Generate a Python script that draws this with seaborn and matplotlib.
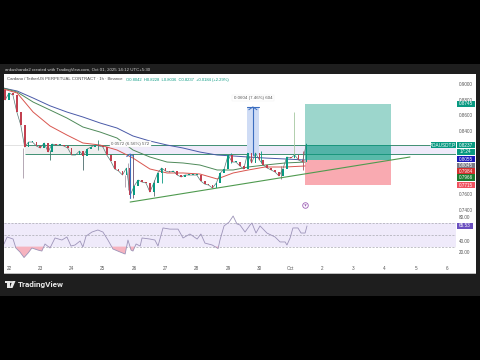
import numpy as np
import pandas as pd
import seaborn as sns
import matplotlib.pyplot as plt
from matplotlib.patches import Rectangle, Polygon, Circle

# hourly chart thinned to 3h closes
closes = [.8794, .8883, .8857, .8641, .8476, .8197, .8260, .8260, .8210, .8184, .8248, .8133, .8235, .8222, .8222, .8210,
          .8184, .8095, .8095, .8146, .8083, .8172, .8197, .8222, .8210, .8197, .8095, .8019, .7918, .7892, .7841, .7930,
          .7587, .7702, .7778, .7752, .7740, .7625, .7740, .7867, .7930, .7892, .7879, .7892, .7841, .7816, .7841, .7841,
          .7841, .7841, .7765, .7727, .7714, .7676, .7740, .7867, .7918, .8095, .8006, .8006, .7956, .7918, .8121, .7994,
          .8121, .8032, .7968, .7930, .7905, .7879, .7829, .7918, .8070, .8057, .8095, .8032, .8006, .8237]
first_open = .8921

wick_days = [22.45, 23.31, 24.36, 24.84, 25.71, 25.80, 25.96, 26.63, 26.89, 29.10, 30.05, 30.70, 31.10, 31.40]
wick_highs = [.8184, .8159, .8133, .8286, .7841, .7994, .8108, .7778, .7930, .8120, .8140, .7950, .8641, .8150]
wick_lows = [.7803, .8032, .7905, .8159, .7689, .7651, .7549, .7575, .7740, .7990, .8000, .7790, .8057, .7900]
wick_colors = ['#a89aa8', '#3a7a6a', '#4a6a6a', '#3a8a7a', '#a89aa8', '#a89aa8', '#6a4a6a', '#5a6a6a', '#089981',
               '#089981', '#089981', '#8a7a7a', '#a5c8a0', '#b05060']

ma_days = [21.81, 22.26, 22.77, 23.31, 23.85, 24.36, 24.91, 25.45, 25.96, 26.50, 27.05, 27.56, 28.10, 28.65, 29.16, 29.64,
           30.18, 30.82, 31.46]
ma_red = [.8934, .8883, .8641, .8464, .8349, .8248, .8222, .8159, .8057, .7918, .7867, .7867, .7854, .7791, .7867, .7905,
          .7943, .7943, .7956]
ma_green = [.8946, .8895, .8768, .8667, .8565, .8451, .8387, .8311, .8159, .8070, .8006, .7994, .7968, .7905, .7905, .7943,
            .7968, .7994, .8006]
ma_blue = [.8946, .8908, .8819, .8720, .8641, .8578, .8502, .8438, .8337, .8273, .8222, .8184, .8133, .8095, .8083, .8070,
           .8057, .8045, .8032]

rsi_days = [21.84, 21.94, 22.13, 22.22, 22.35, 22.48, 22.61, 22.73, 22.93, 23.05, 23.15, 23.31, 23.47, 23.69, 23.85, 23.98,
            24.11, 24.27, 24.36, 24.46, 24.65, 24.84, 25.00, 25.16, 25.32, 25.55, 25.71, 25.80, 25.90, 25.96, 26.06, 26.19,
            26.25, 26.50, 26.66, 26.76, 26.92, 27.14, 27.40, 27.56, 27.78, 28.01, 28.13, 28.26, 28.49, 28.68, 28.74, 28.87,
            29.03, 29.16, 29.28, 29.38, 29.54, 29.70, 29.76, 29.89, 30.02, 30.24, 30.50, 30.66, 30.82, 30.88, 30.98, 31.07,
            31.23, 31.33, 31.46, 31.52]
rsi_vals = [34.5, 46.5, 43.0, 27.6, 20.7, 11.3, 19.0, 27.6, 24.0, 22.4, 34.5, 27.6, 44.8, 41.3, 46.5, 31.0,
            32.8, 39.6, 29.3, 48.0, 55.0, 58.5, 55.0, 41.3, 25.9, 20.7, 17.3, 41.3, 24.0, 22.4, 34.5, 31.0,
            44.8, 43.0, 41.3, 31.0, 62.0, 60.0, 60.0, 44.8, 51.6, 43.0, 51.6, 36.0, 32.8, 26.7, 41.3, 65.5,
            72.0, 82.5, 69.0, 67.0, 55.0, 67.0, 70.5, 53.3, 65.5, 53.3, 46.5, 38.0, 38.0, 32.8, 44.8, 62.0,
            62.0, 53.3, 53.3, 65.5]

price_ticks = [.74, .76, .78, .80, .82, .84, .86, .88, .90]
day_ticks = list(range(22, 37))
day_labels = ['22', '23', '24', '25', '26', '27', '28', '29', '30', 'Oct', '2', '3', '4', '5', '6']
rsi_ticks = [20, 40, 60, 80]

tag_texts = ['0.8745', '0.8237', '17:24', '0.8055', '0.8045', '0.7984', '0.7966', '0.7715']
tag_prices = [.8745, .8222, .8135, .8040, .7960, .7885, .7810, .7714]
tag_colors = ['#089981', '#089981', '#089981', '#1a1ab8', '#787b86', '#d32f2f', '#1b7a2f', '#f0525f']

sns.set_theme(style='white')
plt.rcParams['font.family'] = ['Liberation Sans', 'DejaVu Sans']

fig = plt.figure(figsize=(4.8, 3.6), dpi=100, facecolor='black')


def px_rect(x0, y0, x1, y1, color, z=0):
    # pixel box on the figure, y counted from the top
    fig.add_artist(Rectangle((x0 / 480, 1 - y1 / 360), (x1 - x0) / 480, (y1 - y0) / 360, transform=fig.transFigure,
                             facecolor=color, edgecolor='none', zorder=z))


def price_tag(axis, txt, y, col, h, x0=1.002, x1=1.042, txt_col='white'):
    axis.add_patch(Rectangle((x0, y - h / 2), x1 - x0, h, transform=axis.get_yaxis_transform(), facecolor=col,
                             edgecolor='none', zorder=9, clip_on=False))
    axis.text((x0 + x1) / 2, y, txt, transform=axis.get_yaxis_transform(), fontsize=3.3, color=txt_col, ha='center',
              va='center', zorder=10, clip_on=False)


px_rect(0, 64, 480, 296, '#1e1e1e', -3)
px_rect(4, 74, 476, 273.5, '#bdbdbd', -2)
px_rect(4, 74, 476, 273, 'white', -1)

ax = fig.add_axes([4 / 480, 150 / 360, 452 / 480, 136 / 360], facecolor='none')
ax_rsi = fig.add_axes([4 / 480, 98 / 360, 452 / 480, 52 / 360], facecolor='none')

# candles
days = 21.875 + 0.125 * np.arange(len(closes))
df = pd.DataFrame({'day': days, 'close': closes})
df['open'] = df['close'].shift(1).fillna(first_open)
bar_colors = ['#089981' if c >= o else '#c2404f' for o, c in zip(df['open'], df['close'])]

# zone behind the candles
ax.fill_between([22.5, 25.2], .8108, .8222, color='#efefef', lw=0, zorder=1)
ax.fill_between([25.2, 36.28], .8108, .8222, color='#efeafa', lw=0, zorder=1)
ax.hlines(.8222, 21.84, 22.5, color='#dddddd', lw=0.6, zorder=1)
ax.hlines(.8222, 22.5, 36.28, color='#3f8f72', lw=0.7, zorder=2)
ax.hlines(.8108, 22.5, 36.28, color='#3f8f72', lw=0.7, zorder=2)

# long position box
ax.fill_between([31.46, 34.2], .8032, .8745, color='#089981', alpha=0.4, lw=0, zorder=2)
ax.fill_between([31.46, 34.2], .8032, .8222, color='#089981', alpha=0.45, lw=0, zorder=2)
ax.fill_between([31.46, 34.2], .7715, .8032, color='#f23645', alpha=0.42, lw=0, zorder=2)

# measure tool
ax.fill_between([29.6, 29.98], .8095, .8706, color='#cfdcf5', lw=0, zorder=2)
ax.plot([29.79, 29.79], [.8095, .8706], color='#3c6ec0', lw=0.8, zorder=3)
ax.plot([29.6, 29.98], [.8706, .8706], color='#3c6ec0', lw=0.8, zorder=3)
ax.plot([29.66, 29.79, 29.92], [.8670, .8706, .8670], color='#3c6ec0', lw=0.7, zorder=3)
ax.text(29.79, .8820, '0.0604 (7.46%) 604', fontsize=3.2, color='#555555', ha='center', va='center', zorder=6,
        bbox=dict(facecolor='white', edgecolor='#eeeeee', pad=1, lw=0.3))
ax.text(25.87, .8235, '0.0572 (6.56%) 572', fontsize=3.2, color='#555555', ha='center', va='center', zorder=6,
        bbox=dict(facecolor='white', edgecolor='#eeeeee', pad=1, lw=0.3))

# moving averages
for vals, col in [(ma_blue, '#4a5aa8'), (ma_green, '#4f8a5a'), (ma_red, '#d9564f')]:
    sns.lineplot(x=ma_days, y=vals, ax=ax, color=col, lw=0.7, zorder=4, errorbar=None)

ax.vlines(wick_days, wick_lows, wick_highs, colors=wick_colors, lw=0.6, zorder=4)
sns.lineplot(data=df, x='day', y='close', ax=ax, color='#5a7a76', lw=0.5, zorder=4, errorbar=None)
bottoms = df[['open', 'close']].min(axis=1)
heights = (df['open'] - df['close']).abs().clip(lower=.0012)
ax.bar(df['day'], heights, bottom=bottoms, width=0.055, color=bar_colors, lw=0, zorder=5)

# arrow of the older measure and the trend line
ax.plot([25.87, 25.87], [.7549, .8108], color='#3c6ec0', lw=0.8, zorder=6)
ax.plot([25.76, 25.87, 25.98], [.8075, .8108, .8075], color='#3c6ec0', lw=0.7, zorder=6)
sns.lineplot(x=[25.87, 34.81], y=[.7498, .8070], ax=ax, color='#4f9a4f', lw=0.8, zorder=6, errorbar=None)

ax.scatter([31.46], [.7460], s=16, facecolor='white', edgecolor='#9c5fb5', lw=0.6, zorder=6)
ax.scatter([31.46], [.7460], s=3, marker='v', color='#9c5fb5', lw=0, zorder=7)

ax.set_xlim(21.84, 36.28)
ax.set_ylim(.7397, .9124)
ax.set_xticks([])
ax.set_yticks(price_ticks)
ax.set_yticklabels(['%.4f' % p for p in price_ticks], fontsize=3.3, color='#555555')
ax.yaxis.tick_right()
ax.tick_params(axis='y', length=0, pad=2)
ax.set_xlabel('')
ax.set_ylabel('')
sns.despine(ax=ax, left=True, right=True, top=True, bottom=True)

# price tags on the right, drawn over the hidden tick labels
for lab in ax.get_yticklabels():
    if lab.get_text() in ('0.7800', '0.8000', '0.8200'):
        lab.set_visible(False)
for txt, p, col in zip(tag_texts, tag_prices, tag_colors):
    price_tag(ax, txt, p, col, .0078)
price_tag(ax, 'ADAUSDT.P', .8222, '#089981', .0078, x0=.945, x1=.9995)

# RSI pane
ax_rsi.fill_between([21.84, 36.28], 30, 70, color='#efeafa', lw=0, zorder=1)
for lvl in [70, 50, 30]:
    ax_rsi.axhline(lvl, color='#a8a8b0', lw=0.5, ls=(0, (3, 2)), zorder=2)
rsi_x = np.array(rsi_days)
rsi_y = np.array(rsi_vals)
ax_rsi.fill_between(rsi_x, rsi_y, 30, where=rsi_y < 30, interpolate=True, color='#f6b3bf', lw=0, zorder=2)
sns.lineplot(x=rsi_days, y=rsi_vals, ax=ax_rsi, color='#9c93b8', lw=0.6, zorder=3, errorbar=None)
ax_rsi.set_xlim(21.84, 36.28)
ax_rsi.set_ylim(3.6, 92.8)
ax_rsi.set_xticks(day_ticks)
ax_rsi.set_xticklabels(day_labels, fontsize=3.3, color='#555555')
ax_rsi.set_yticks(rsi_ticks)
ax_rsi.set_yticklabels(['%.2f' % r for r in rsi_ticks], fontsize=3.3, color='#555555')
ax_rsi.yaxis.tick_right()
ax_rsi.tick_params(axis='y', length=0, pad=2)
ax_rsi.tick_params(axis='x', length=0, pad=3)
sns.despine(ax=ax_rsi, left=True, right=True, top=True, bottom=True)
for lab in ax_rsi.get_yticklabels():
    if lab.get_text() == '60.00':
        lab.set_visible(False)
price_tag(ax_rsi, '65.53', 65.53, '#6a4fc0', 10, x1=1.038)

# pane separator
px_rect(4, 209.6, 476, 210.4, '#b5b5b5', 5)

# header, legend and logo
fig.text(5 / 480, 1 - 69.5 / 360, 'ankushanda2 created with TradingView.com, Oct 01, 2025 14:12 UTC+5:30', fontsize=3.2,
         color='#d0d0d0', va='center')
fig.text(7 / 480, 1 - 79.5 / 360, 'Cardano / TetherUS PERPETUAL CONTRACT · 1h · Binance', fontsize=3.05, color='#444444',
         va='center')
fig.text(126 / 480, 1 - 79.5 / 360, 'O0.8042  H0.8228  L0.8036  C0.8237  +0.0184 (+2.29%)', fontsize=3.0, color='#089981',
         va='center')
fig.text(18 / 480, 1 - 284.5 / 360, 'TradingView', fontsize=5.9, color='#e8e8e8', va='center', fontweight='bold',
         family='Roboto')
px_rect(4.5, 281, 9.5, 283, '#e8e8e8', 5)
px_rect(6.5, 283, 9.5, 288, '#e8e8e8', 5)
fig.add_artist(Circle((11 / 480, 1 - 282 / 360), 0.0027, transform=fig.transFigure, facecolor='#e8e8e8', edgecolor='none'))
fig.add_artist(Polygon([[12.3 / 480, 1 - 281 / 360], [15.5 / 480, 1 - 281 / 360], [12.5 / 480, 1 - 288 / 360],
                        [9.8 / 480, 1 - 288 / 360]], transform=fig.transFigure, facecolor='#e8e8e8', edgecolor='none'))

fig.savefig('out.png', dpi=100, facecolor='black')
